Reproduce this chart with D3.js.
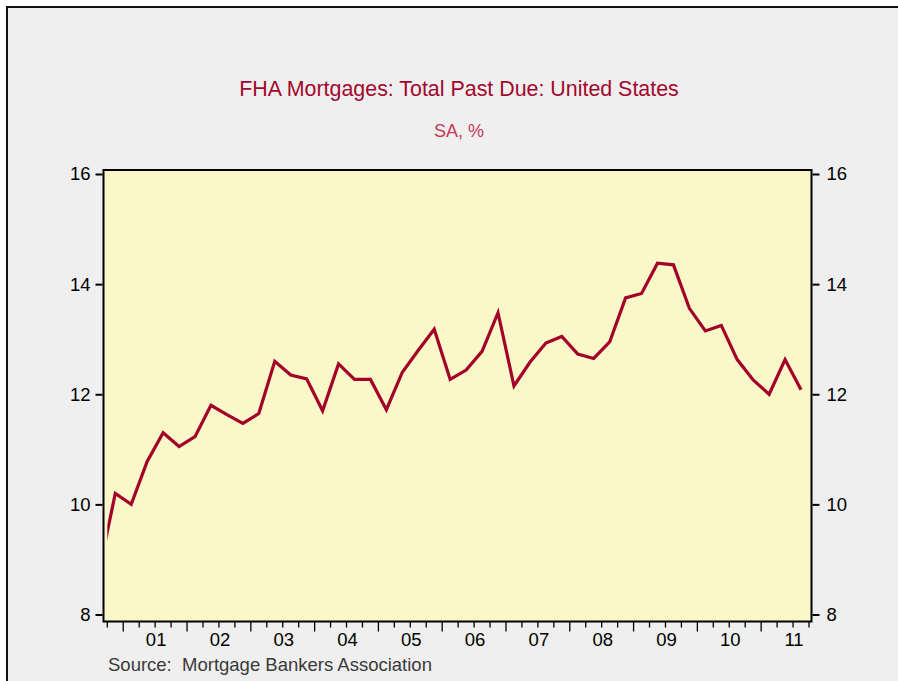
<!DOCTYPE html>
<html>
<head>
<meta charset="utf-8">
<script src="https://cdn.jsdelivr.net/npm/d3@7"></script>
<style>
  html, body { margin: 0; padding: 0; background: #ffffff; }
  svg { display: block; }
  text { font-family: "Liberation Sans", Arial, sans-serif; }
</style>
</head>
<body>
<svg id="chart" width="898" height="681"></svg>
<script>
// ---- data ----
const title = "FHA Mortgages: Total Past Due: United States";
const subtitle = "SA, %";
const source = "Source:  Mortgage Bankers Association";
const startYear = 2000;
const startQuarter = 3;   // first observation: 2000Q3
const values = [8.8, 10.2, 10.0, 10.78, 11.3, 11.05, 11.23, 11.8, 11.63, 11.47,
  11.65, 12.6, 12.35, 12.28, 11.7, 12.55, 12.27, 12.27, 11.72, 12.4,
  12.8, 13.18, 12.27, 12.44, 12.78, 13.48, 12.15, 12.58, 12.93, 13.05,
  12.73, 12.65, 12.95, 13.75, 13.83, 14.38, 14.35, 13.56, 13.15, 13.25,
  12.63, 12.26, 12.0, 12.63, 12.08];
const yTicks = [8, 10, 12, 14, 16];
const yearLabels = ["01","02","03","04","05","06","07","08","09","10","11"];
const labelYears = [2001,2002,2003,2004,2005,2006,2007,2008,2009,2010,2011];

// ---- layout ----
const svg = d3.select("#chart");
const frame = { left: 103.5, right: 811.5, top: 170, bottom: 621.5 };
const tickStart = 2000.75, tickEnd = 2011.75;

const x = d3.scaleLinear().domain([tickStart, tickEnd]).range([107.3, 809]);
const y = d3.scaleLinear().domain([8, 16]).range([614.5, 174]);

// outer background & border
svg.append("rect").attr("x", 7).attr("y", 7).attr("width", 900).attr("height", 700)
  .attr("fill", "#efefef").attr("stroke", "#111").attr("stroke-width", 2);

// titles
svg.append("text").attr("x", 459).attr("y", 96).attr("text-anchor", "middle")
  .attr("font-size", 21.4).attr("fill", "#a3072c").text(title);
svg.append("text").attr("x", 459).attr("y", 137).attr("text-anchor", "middle")
  .attr("font-size", 18).attr("fill", "#c43a55").text(subtitle);

// plot area
svg.append("rect").attr("x", frame.left).attr("y", frame.top)
  .attr("width", frame.right - frame.left).attr("height", frame.bottom - frame.top)
  .attr("fill", "#faf8c8");

// clip
svg.append("clipPath").attr("id", "clip").append("rect")
  .attr("x", x(tickStart)).attr("y", frame.top)
  .attr("width", frame.right - x(tickStart)).attr("height", frame.bottom - frame.top);

const data = values.map((v, i) => {
  const q = startQuarter - 1 + i;
  const t = startYear + Math.floor(q / 4) + (q % 4) / 4 + 0.125;
  return { t, v };
});

svg.append("path").datum(data)
  .attr("clip-path", "url(#clip)")
  .attr("fill", "none").attr("stroke", "#a3002a").attr("stroke-width", 3.2)
  .attr("stroke-linejoin", "miter")
  .attr("d", d3.line().x(d => x(d.t)).y(d => y(d.v)));

// frame border
svg.append("rect").attr("x", frame.left).attr("y", frame.top)
  .attr("width", frame.right - frame.left).attr("height", frame.bottom - frame.top)
  .attr("fill", "none").attr("stroke", "#000").attr("stroke-width", 2);

// y axes
const leftAxis = svg.append("g").attr("transform", `translate(${frame.left - 1},0)`)
  .call(d3.axisLeft(y).tickValues(yTicks).tickSize(7).tickPadding(5).tickFormat(d3.format("d")));
const rightAxis = svg.append("g").attr("transform", `translate(${frame.right + 1},0)`)
  .call(d3.axisRight(y).tickValues(yTicks).tickSize(7).tickPadding(7).tickFormat(d3.format("d")));
[leftAxis, rightAxis].forEach(g => {
  g.select(".domain").remove();
  g.selectAll("line").attr("stroke", "#000").attr("stroke-width", 2);
  g.selectAll("text").attr("font-size", 18.5).attr("fill", "#000")
    .attr("font-family", "Liberation Sans, Arial, sans-serif");
});

// x axis ticks
const quarterTicks = d3.range(0, Math.round((tickEnd - tickStart) * 4) + 1).map(k => tickStart + k / 4);
const xg = svg.append("g");
xg.selectAll("line").data(quarterTicks).enter().append("line")
  .attr("x1", d => x(d)).attr("x2", d => x(d))
  .attr("y1", frame.bottom)
  .attr("y2", d => frame.bottom + (Math.abs(d - Math.round(d)) < 1e-6 ? 10 : 6))
  .attr("stroke", "#000").attr("stroke-width", 1.3);
xg.selectAll("text").data(labelYears).enter().append("text")
  .attr("x", d => x(d + 0.5) + 1).attr("y", 645.5)
  .attr("text-anchor", "middle").attr("font-size", 18.5).attr("fill", "#000")
  .text((d, i) => yearLabels[i]);

// source
svg.append("text").attr("x", 108).attr("y", 670.5)
  .attr("font-size", 18.5).attr("fill", "#3a3a3a").attr("xml:space", "preserve")
  .style("white-space", "pre").text(source);
</script>
</body>
</html>
